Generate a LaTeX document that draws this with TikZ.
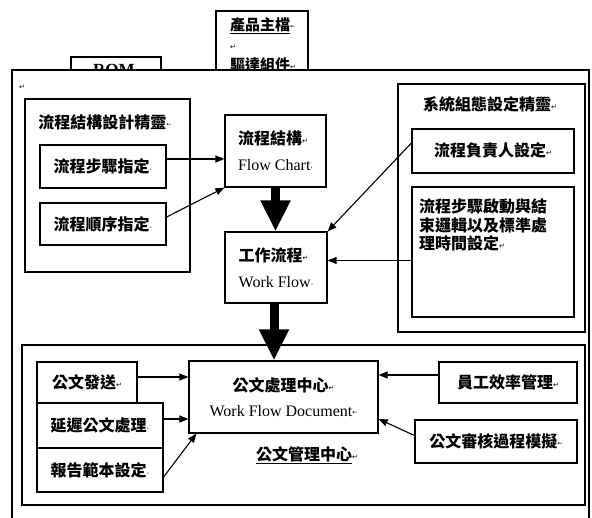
\documentclass[tikz,border=0pt]{standalone}
\usepackage{fontspec}
\setmainfont{Liberation Serif}
\newfontfamily\cjk{Noto Sans CJK TC}
\newfontfamily\symf{DejaVu Sans}
\usetikzlibrary{arrows.meta,calc}
\newcommand\zhT[1]{{\cjk\bfseries #1}}
\newcommand\pmk{{\symf\fontsize{7}{7}\selectfont\raisebox{1pt}{↵}}}
\newcommand\dmk{{\symf\fontsize{8}{8}\selectfont ·}}
\newcommand\lmk{{\symf\fontsize{6}{6}\selectfont\raisebox{2pt}{←}}}
\begin{document}
\begin{tikzpicture}[x=1pt,y=-1pt,
  box/.style={draw, line width=1.2pt, inner sep=0pt, fill=white,
    font=\fontsize{16}{26}\selectfont, align=left},
  grp/.style={draw, line width=2pt, inner sep=0pt},
  arr/.style={line width=1.1pt, -{Triangle[length=9pt,width=7pt]}},
  bigarr/.style={line width=9pt, -{Triangle[length=31pt,width=28pt]}},
  lbl/.style={inner sep=0pt, font=\fontsize{16}{20}\selectfont}]
\useasboundingbox (0,0) rectangle (592,518);
\fill[white] (0,0) rectangle (592,518);
% clipped top boxes
\node[box, minimum width=92, minimum height=80, font=\fontsize{15}{20}\selectfont] (prod) at (262,51)
  {\begin{minipage}[c][76pt][t]{64pt}\vspace*{4pt}\underline{\zhT{產品主檔}}\lmk\\\pmk\\\zhT{驅達組件}\pmk\end{minipage}};
\node[box, minimum width=90, minimum height=30] (rom) at (116,72) {};
\node[lbl, font=\bfseries\fontsize{17}{17}\selectfont, anchor=north west] (romt) at (93,64) {ROM\pmk};
\fill[white] (12,70) rectangle (590,518);
% outer frame
\draw[line width=1.3pt] (12,518) -- (12,70) -- (589,70) -- (589,518);
\node[lbl] (ret) at (22,88) {\pmk};
% left wizard group
\node[grp, minimum width=165, minimum height=173] (lgrp) at (107.5,185.5) {};
\node[lbl] (ltitle) at (105,122) {\zhT{流程結構設計精靈}\lmk};
\node[box, minimum width=126, minimum height=43] (step) at (103,166.5) {\zhT{流程步驟指定}\dmk};
\node[box, minimum width=126, minimum height=42] (order) at (103,224) {\zhT{流程順序指定}\dmk};
% centre column
\node[box, minimum width=101, minimum height=72] (fc) at (275.5,151) {\zhT{流程結構}\pmk\\Flow Chart\dmk};
\node[box, minimum width=102, minimum height=71] (wf) at (276,267.5) {\zhT{工作流程}\pmk\\Work Flow\dmk};
% right wizard group
\node[grp, minimum width=187, minimum height=248] (rgrp) at (491.5,208) {};
\node[lbl] (rtitle) at (490,104) {\zhT{系統組態設定精靈}\pmk};
\node[box, minimum width=162, minimum height=44] (owner) at (493,151) {\raisebox{3pt}{\zhT{流程負責人設定}\pmk}};
\node[box, minimum width=162, minimum height=130, font=\fontsize{16}{18.5}\selectfont] (logic) at (493,252)
  {\begin{minipage}[c][122pt][t]{148pt}\vspace*{8pt}\zhT{流程步驟啟動與結}\\\zhT{束邏輯以及標準處}\\\zhT{理時間設定}\pmk\end{minipage}};
% bottom group
\node[grp, minimum width=563, minimum height=160] (bgrp) at (303.5,425) {};
\node[box, minimum width=189, minimum height=72, align=center, font=\fontsize{16}{25}\selectfont] (proc) at (283.5,397)
  {\zhT{公文處理中心}\pmk\\Work Flow Document\lmk};
\node[lbl] (btitle) at (307,455) {\underline{\zhT{公文管理中心}}\pmk};
\node[box, minimum width=100, minimum height=41] (send) at (87,382.5) {\zhT{公文發送}\pmk};
\node[box, minimum width=126, minimum height=45] (delay) at (100,425.5) {\zhT{延遲公文處理}\dmk};
\node[box, minimum width=126, minimum height=44] (report) at (100,470) {\zhT{報告範本設定}\dmk};
\node[box, minimum width=138, minimum height=41] (eff) at (508,382.5) {\zhT{員工效率管理}\pmk};
\node[box, minimum width=162, minimum height=43] (audit) at (496,441.5) {\zhT{公文審核過程模擬}\lmk};
% thick arrows
\draw[bigarr] (fc.south) -- (fc.south |- wf.north);
\draw[bigarr] ([xshift=-2pt]wf.south) -- ([xshift=-2pt]wf.south |- proc.north);
% thin arrows, upper part
\coordinate (fcin) at ([yshift=-8pt]fc.west);
\draw[arr] (step.east |- fcin) -- (fcin);
\draw[arr] ([yshift=7pt]order.east) -- (fc.south west);
\draw[arr] ([yshift=8pt]owner.west) -- (wf.north east);
\coordinate (wfin) at ([yshift=7pt]wf.east);
\draw[arr] (logic.west |- wfin) -- (wfin);
% thin arrows, lower part
\coordinate (pin1) at ([yshift=20pt]proc.west);
\coordinate (pin2) at ([yshift=-22pt]proc.west);
\draw[arr] (send.east |- pin1) -- (pin1);
\draw[arr] (delay.east |- pin2) -- (pin2);
\draw[arr] ([yshift=-7pt]report.east) -- ([xshift=8pt]proc.south west);
\coordinate (pout1) at ([yshift=22pt]proc.east);
\coordinate (pout2) at ([yshift=-22pt]proc.east);
\draw[arr] (eff.west |- pout1) -- (pout1);
\draw[arr] ([yshift=6pt]audit.west) -- (pout2);
\end{tikzpicture}
\end{document}
